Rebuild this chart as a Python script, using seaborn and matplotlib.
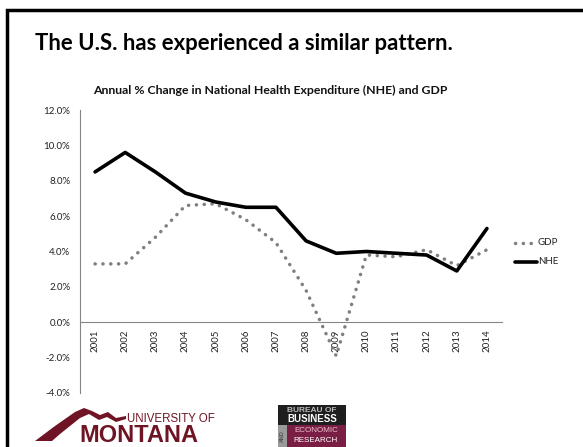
import matplotlib
matplotlib.use('Agg')
import matplotlib.pyplot as plt
import seaborn as sns
import pandas as pd
from matplotlib.patches import Polygon, Rectangle
from matplotlib.lines import Line2D
from matplotlib.ticker import FuncFormatter, FixedLocator

# data
years = [str(y) for y in range(2001, 2015)]
gdp = [3.3, 3.3, 4.8, 6.6, 6.7, 5.8, 4.5, 1.8, -1.9, 3.8, 3.7, 4.1, 3.2, 4.1]
nhe = [8.5, 9.6, 8.5, 7.3, 6.8, 6.5, 6.5, 4.6, 3.9, 4.0, 3.9, 3.8, 2.9, 5.3]
y_ticks = [-4, -2, 0, 2, 4, 6, 8, 10, 12]

sns.set_style('white')
plt.rcParams['font.family'] = ['Lato', 'DejaVu Sans']

W, H = 583, 447
fig = plt.figure(figsize=(W / 100, H / 100), dpi=100)

def fx(px):
    return px / W

def fy(py):
    return 1 - py / H

ax = fig.add_axes([fx(80), fy(393), fx(502) - fx(80), fy(110) - fy(393)])

df = pd.DataFrame({'year': years, 'GDP': gdp, 'NHE': nhe})
xpos = list(range(len(years)))
sns.lineplot(x=xpos, y=df['GDP'], ax=ax, color='#7f7f7f', lw=2.5,
             linestyle=(0, (0.05, 2.2)), sort=False)
ax.lines[-1].set_dash_capstyle('round')
sns.lineplot(x=xpos, y=df['NHE'], ax=ax, color='black', lw=2.6, sort=False)

# spine position first: it resets the ticks
for s in ['top', 'right']:
    ax.spines[s].set_visible(False)
ax.spines['bottom'].set_position(('data', 0))
ax.spines['left'].set_color('#868686')
ax.spines['bottom'].set_color('#868686')
ax.spines['left'].set_linewidth(0.8)
ax.spines['bottom'].set_linewidth(0.8)

ax.set_xlim(-0.5, len(years) - 0.5)
ax.set_ylim(-4, 12)
ax.set_yticks(y_ticks)
ax.yaxis.set_major_formatter(FuncFormatter(lambda v, p: f'{v:.1f}%'))
ax.set_xticks(xpos)
ax.set_xticklabels(years)
ax.xaxis.set_minor_locator(FixedLocator([i - 0.5 for i in range(len(years) + 1)]))
ax.tick_params(axis='x', which='major', length=0, pad=5, labelrotation=90, labelsize=7,
               labelcolor='#222222')
ax.tick_params(axis='x', which='minor', length=4, color='#868686', direction='out', width=0.8)
ax.tick_params(axis='y', length=4, color='#868686', width=0.8, labelsize=7,
               labelcolor='#222222', direction='out', pad=3)
ax.set_xlabel('')
ax.set_ylabel('')
ax.grid(False)

# legend, drawn by hand in figure coords
fig.add_artist(Line2D([fx(515), fx(537)], [fy(242.5), fy(242.5)], color='#7f7f7f', lw=2.5,
                      linestyle=(0, (0.05, 2.2)), dash_capstyle='round'))
fig.text(fx(538), fy(242.5), 'GDP', fontsize=7, va='center', ha='left', color='#222222')
fig.add_artist(Line2D([fx(515), fx(537)], [fy(261.5), fy(261.5)], color='black', lw=2.6))
fig.text(fx(538), fy(261.5), 'NHE', fontsize=7, va='center', ha='left', color='#222222')

# titles
fig.text(fx(35), fy(50), 'The U.S. has experienced a similar pattern.', fontsize=15.9,
         fontweight='bold', ha='left', va='baseline', color='black')
fig.text(fx(270), fy(90), 'Annual % Change in National Health Expenditure (NHE) and GDP',
         fontsize=8.8, fontweight='bold', ha='center', va='center', color='#111111')

# slide border
fig.add_artist(Line2D([fx(7), fx(7), fx(583)], [fy(H), fy(10), fy(10)], color='black', lw=2.5,
                      solid_joinstyle='miter'))

# University of Montana logo (approximation)
maroon = '#6e1424'
mountain = [(35, 441), (55, 426), (75, 412), (84, 408), (92, 411), (100, 415), (108, 412),
            (116, 418), (126, 416), (126, 419), (116, 422), (107, 417), (99, 420), (89, 414),
            (80, 418), (60, 434), (52, 441)]
fig.add_artist(Polygon([(fx(a), fy(b)) for a, b in mountain], closed=True,
                       facecolor=maroon, edgecolor='none'))
fig.text(fx(127), fy(422), 'UNIVERSITY OF', fontsize=8.3, color=maroon, ha='left',
         va='baseline', family='Liberation Sans')
fig.text(fx(79), fy(442), 'MONTANA', fontsize=17, color=maroon, fontweight='bold',
         ha='left', va='baseline', family='Liberation Sans')

# BBER logo (approximation)
fig.add_artist(Rectangle((fx(278), fy(425)), fx(346) - fx(278), fy(405) - fy(425),
                         facecolor='#1e1e1e', edgecolor='none'))
fig.add_artist(Rectangle((fx(278), fy(447)), fx(287) - fx(278), fy(425) - fy(447),
                         facecolor='#9a9a9a', edgecolor='none'))
fig.add_artist(Rectangle((fx(287), fy(447)), fx(346) - fx(287), fy(425) - fy(447),
                         facecolor='#7a1e45', edgecolor='none'))
fig.text(fx(312), fy(410), 'BUREAU OF', fontsize=6, color='#bbbbbb', fontweight='bold',
         ha='center', va='center', family='Liberation Sans')
fig.text(fx(312), fy(419.5), 'BUSINESS', fontsize=7, color='white', fontweight='bold',
         ha='center', va='center', family='Liberation Sans')
fig.text(fx(282.5), fy(436), 'AND', fontsize=4, color='#333333', rotation=90, ha='center',
         va='center', family='Liberation Sans')
fig.text(fx(316), fy(431), 'ECONOMIC', fontsize=5.8, color='#f0c0d0', ha='center',
         va='center', family='Liberation Sans')
fig.text(fx(316), fy(441), 'RESEARCH', fontsize=5.8, color='white', ha='center',
         va='center', family='Liberation Sans')

fig.savefig('out.png', dpi=100)
